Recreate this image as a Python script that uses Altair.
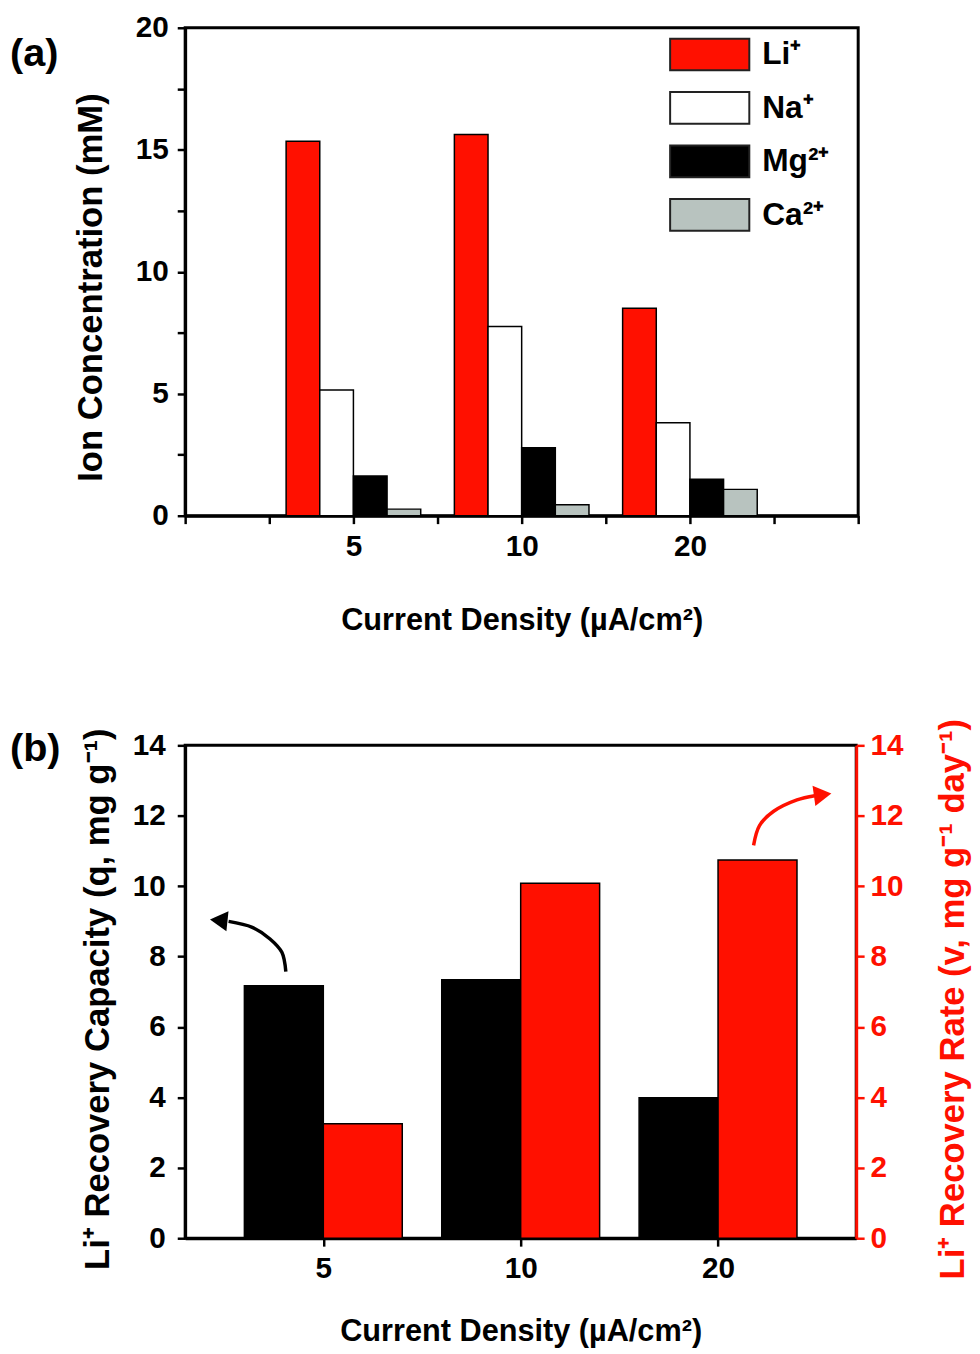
import altair as alt
import pandas as pd

FONT = "Liberation Sans"
RED = "#ff1000"

# ---------------- data ----------------
currents = ["5", "10", "20"]
ions = ["Li⁺", "Na⁺", "Mg²⁺", "Ca²⁺"]
li = [15.35, 15.63, 8.50]
na = [5.15, 7.76, 3.81]
mg = [1.63, 2.79, 1.50]
ca = [0.27, 0.45, 1.08]
ion_colors = [RED, "#ffffff", "#000000", "#b8c3bf"]

q_capacity = [7.17, 7.34, 3.99]
v_rate = [3.25, 10.08, 10.74]

# annotation arrows (data coordinates of panel b)
black_arrow_x = [0.81, 0.79, 0.73, 0.64, 0.52]
black_arrow_y = [7.57, 8.12, 8.50, 8.83, 9.00]
red_arrow_x = [3.18, 3.21, 3.28, 3.40, 3.49]
red_arrow_y = [11.16, 11.72, 12.12, 12.45, 12.57]
black_head_x = [0.47]
black_head_y = [9.03]
red_head_x = [3.53]
red_head_y = [12.60]

# ---------------- tables ----------------
rows = []
for i, c in enumerate(currents):
    for j, (ion, vals) in enumerate(zip(ions, [li, na, mg, ca])):
        rows.append({"current": c, "idx": i + 1, "ion": ion, "j": j, "value": vals[i]})
df_a = pd.DataFrame(rows)

df_b = pd.DataFrame({"current": currents, "idx": [1, 2, 3], "q": q_capacity, "v": v_rate})
df_black = pd.DataFrame({"x": black_arrow_x, "y": black_arrow_y, "o": range(len(black_arrow_x))})
df_red = pd.DataFrame({"x": red_arrow_x, "y": red_arrow_y, "o": range(len(red_arrow_x))})
df_bh = pd.DataFrame({"x": black_head_x, "y": black_head_y})
df_rh = pd.DataFrame({"x": red_head_x, "y": red_head_y})

label_expr = "datum.value == 1 ? '5' : datum.value == 2 ? '10' : datum.value == 3 ? '20' : ''"

common_axis = dict(
    labelFont=FONT, labelFontWeight="bold", labelFontSize=30, labelColor="black",
    titleFont=FONT, titleFontWeight="bold", titleFontSize=31, titleColor="black",
    domainColor="black", domainWidth=3, tickColor="black", tickWidth=2.5, tickSize=8,
    grid=False,
)

# ---------------- panel (a) ----------------
xa_axis = alt.Axis(values=[k * 0.5 for k in range(9)], labelExpr=label_expr,
                   title="Current Density (µA/cm²)", labelPadding=8, titlePadding=45,
                   **common_axis)
ya_axis = alt.Axis(values=[k * 2.5 for k in range(9)],
                   labelExpr="datum.value % 5 == 0 ? datum.label : ''",
                   title="Ion Concentration (mM)", labelPadding=9, titlePadding=27,
                   titleY=262,
                   **{**common_axis, "titleFontSize": 35})

bars_a = alt.Chart(df_a).transform_calculate(
    xs="datum.idx - 0.4 + datum.j * 0.2",
    xe="datum.idx - 0.2 + datum.j * 0.2",
).mark_bar(stroke="black", strokeWidth=1.5, opacity=1).encode(
    x=alt.X("xs:Q", scale=alt.Scale(domain=[0, 4], nice=False, zero=False), axis=xa_axis),
    x2="xe:Q",
    y=alt.Y("value:Q", scale=alt.Scale(domain=[0, 20], nice=False), axis=ya_axis),
    y2=alt.datum(0),
    color=alt.Color("ion:N", scale=alt.Scale(domain=ions, range=ion_colors),
                    legend=alt.Legend(
                        title=None, orient="none", legendX=513, legendY=10,
                        symbolType="M-2.5,-1H2.5V1H-2.5Z", symbolSize=1024,
                        symbolStrokeColor="#222222", symbolStrokeWidth=2,
                        symbolOpacity=1,
                        labelFont=FONT, labelFontWeight="bold", labelFontSize=32,
                        labelColor="black", labelOffset=36, rowPadding=14,
                    )),
)

lab_a = alt.Chart(pd.DataFrame({"t": ["(a)"]})).mark_text(
    font=FONT, fontWeight="bold", fontSize=40, align="left", baseline="middle", color="black"
).encode(text="t:N", x=alt.value(-177), y=alt.value(27))

panel_a = alt.layer(bars_a, lab_a).properties(width=680, height=493)

# ---------------- panel (b) ----------------
xb_scale = alt.Scale(domain=[0.3, 3.7], nice=False, zero=False)
xb_axis = alt.Axis(values=[1, 2, 3], labelExpr=label_expr,
                   title="Current Density (µA/cm²)", labelPadding=8, titlePadding=33,
                   **common_axis)
yl_scale = alt.Scale(domain=[0, 14], nice=False)
yr_scale = alt.Scale(domain=[0, 14], nice=False)
yl_axis = alt.Axis(values=list(range(0, 15, 2)), title="Li⁺ Recovery Capacity (q, mg g⁻¹)",
                   labelPadding=12, titlePadding=17, titleY=256,
                   **{**common_axis, "titleFontSize": 35})
yr_axis = alt.Axis(values=list(range(0, 15, 2)), orient="right",
                   title="Li⁺ Recovery Rate (v, mg g⁻¹ day⁻¹)", titleAngle=270,
                   titleBaseline="top", titleY=256,
                   labelPadding=6, titlePadding=33,
                   **{**common_axis, "labelColor": RED, "titleColor": RED,
                      "domainColor": RED, "tickColor": RED, "titleFontSize": 35})

base_b = alt.Chart(df_b).transform_calculate(
    qs="datum.idx - 0.4", ve="datum.idx + 0.4"
)
bars_q = base_b.mark_bar(color="black", stroke="black", strokeWidth=1.5).encode(
    x=alt.X("qs:Q", scale=xb_scale, axis=xb_axis),
    x2="idx:Q",
    y=alt.Y("q:Q", scale=yl_scale, axis=yl_axis),
    y2=alt.datum(0),
)
arrow_black = alt.Chart(df_black).mark_line(
    color="black", strokeWidth=3.5, interpolate="catmull-rom"
).encode(
    x=alt.X("x:Q", scale=xb_scale, axis=xb_axis),
    y=alt.Y("y:Q", scale=yl_scale, axis=yl_axis),
    order="o:Q",
)
head_black = alt.Chart(df_bh).mark_point(
    shape="triangle-left", filled=True, color="black", size=420, angle=6, opacity=1
).encode(
    x=alt.X("x:Q", scale=xb_scale, axis=xb_axis),
    y=alt.Y("y:Q", scale=yl_scale, axis=yl_axis),
)
lab_b = alt.Chart(pd.DataFrame({"t": ["(b)"]})).mark_text(
    font=FONT, fontWeight="bold", fontSize=40, align="left", baseline="middle", color="black"
).encode(text="t:N", x=alt.value(-177), y=alt.value(4))

bars_v = base_b.mark_bar(color=RED, stroke="black", strokeWidth=1.5).encode(
    x=alt.X("idx:Q", scale=xb_scale, axis=xb_axis),
    x2="ve:Q",
    y=alt.Y("v:Q", scale=yr_scale, axis=yr_axis),
    y2=alt.datum(0),
)
arrow_red = alt.Chart(df_red).mark_line(
    color=RED, strokeWidth=3.5, interpolate="catmull-rom"
).encode(
    x=alt.X("x:Q", scale=xb_scale, axis=xb_axis),
    y=alt.Y("y:Q", scale=yr_scale, axis=yr_axis),
    order="o:Q",
)
head_red = alt.Chart(df_rh).mark_point(
    shape="triangle-right", filled=True, color=RED, size=420, angle=352, opacity=1
).encode(
    x=alt.X("x:Q", scale=xb_scale, axis=xb_axis),
    y=alt.Y("y:Q", scale=yr_scale, axis=yr_axis),
)

left_b = alt.layer(bars_q, arrow_black, head_black, lab_b)
right_b = alt.layer(bars_v, arrow_red, head_red)
panel_b = alt.layer(left_b, right_b).resolve_scale(y="independent").properties(
    width=678, height=498
)

chart = alt.vconcat(panel_a, panel_b, spacing=80).properties(
    padding={"left": 0, "top": -4, "right": 0, "bottom": 0},
    background="white",
).configure_view(stroke="black", strokeWidth=3)

chart.save("out.html", embed_options={"renderer": "svg", "actions": False})
